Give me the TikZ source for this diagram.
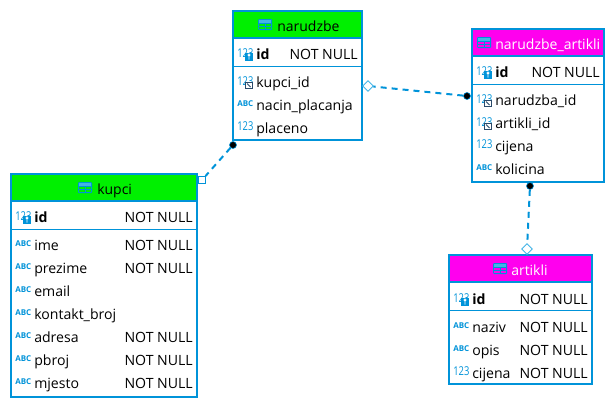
\documentclass[tikz,border=0pt]{standalone}
\usepackage{fontspec}
\usepackage{graphicx}
\setmainfont{Open Sans}
\definecolor{erblue}{HTML}{0093D9}
\definecolor{erlight}{HTML}{45B4E6}
\definecolor{ergreen}{HTML}{00F000}
\definecolor{ermagenta}{HTML}{FF00EE}
\definecolor{erdark}{HTML}{2A4A6A}
\newcommand{\tableicon}[3]{% x, y, cell colour
\fill[erblue,rounded corners=1pt] (#1,#2) rectangle ++(14,11);
\fill[erlight] (#1+1,#2+1) rectangle ++(12,3);
\fill[#3] (#1+1,#2+5) rectangle ++(5.5,2.2);
\fill[#3] (#1+7.5,#2+5) rectangle ++(5.5,2.2);
\fill[#3] (#1+1,#2+8) rectangle ++(5.5,2.2);
\fill[#3] (#1+7.5,#2+8) rectangle ++(5.5,2.2);}
\newcommand{\keybadge}[2]{% x, y
\fill[erblue] (#1,#2) rectangle ++(8,8);
\draw[white,line width=.7pt] (#1+4,#2+2) circle (1.1) -- (#1+4,#2+6.5);}
\newcommand{\refbadge}[2]{% x, y
\draw[erdark,fill=white,line width=1pt] (#1,#2) rectangle ++(7.5,6.5);
\draw[erdark,line width=.8pt] (#1+2,#2+1.5) -- (#1+5.5,#2+5);}
\newcommand{\tallnum}{\scalebox{1}[1.3]{123}}
\tikzset{
tablebox/.style={draw=erblue,line width=2.6pt,fill=white,anchor=north west,inner sep=0pt,outer sep=0pt},
headbox/.style={tablebox},
title/.style={anchor=base west,inner sep=0pt,font=\fontsize{14}{16}\selectfont},
colname/.style={anchor=base west,inner sep=0pt,font=\fontsize{14.1}{16}\selectfont},
keyname/.style={colname,font=\fontsize{14.1}{16}\selectfont\bfseries},
notnull/.style={anchor=base east,inner sep=0pt,font=\fontsize{14.1}{16}\selectfont},
numicon/.style={anchor=base west,inner sep=0pt,text=erblue,font=\fontsize{9.4}{10}\selectfont},
abcicon/.style={anchor=base west,inner sep=0pt,text=erblue,font=\fontsize{8}{8}\selectfont\bfseries},
relline/.style={draw=erblue,line width=2pt,dash pattern=on 6pt off 5pt},
dotend/.style={circle,fill=black,draw=erblue,line width=.6pt,inner sep=0pt,minimum size=7pt},
diaend/.style={diamond,draw=erlight,fill=white,line width=.9pt,inner sep=0pt,minimum size=11pt},
squareend/.style={rectangle,draw=erblue,fill=white,line width=.9pt,inner sep=0pt,minimum size=7pt},
}
\usetikzlibrary{shapes.geometric}
\begin{document}
\begin{tikzpicture}[x=1pt,y=-1pt,line width=.5pt]
\path[use as bounding box] (0,0) rectangle (615,407);
% narudzbe
\node[tablebox,minimum width=129,minimum height=129] (narudzbe) at (233,11) {};
\node[headbox,fill=ergreen,minimum width=129,minimum height=27] (narudzbeHead) at (233,11) {};
\draw[erblue,line width=1pt] (233,66) -- (362,66);
\tableicon{258}{19}{ergreen}
\node[title] (narudzbeTitle) at (277,31) {narudzbe};
\node[numicon] (narudzbeIdIcon) at (237,57) {\tallnum};
\keybadge{245}{53}
\node[keyname] (narudzbeId) at (256,59) {id};
\node[notnull] (narudzbeIdNull) at (358,59) {NOT NULL};
\node[numicon] (narudzbeKupciIcon) at (237,85) {\tallnum};
\refbadge{245}{82}
\node[colname] (narudzbeKupci) at (256,87) {kupci\_id};
\node[abcicon] (narudzbeNacinIcon) at (237,106) {ABC};
\node[colname] (narudzbeNacin) at (256,110) {nacin\_placanja};
\node[numicon] (narudzbePlacenoIcon) at (237,130) {\tallnum};
\node[colname] (narudzbePlaceno) at (256,133) {placeno};
% kupci
\node[tablebox,minimum width=186,minimum height=223] (kupci) at (11,174) {};
\node[headbox,fill=ergreen,minimum width=186,minimum height=27] (kupciHead) at (11,174) {};
\draw[erblue,line width=1pt] (11,229) -- (197,229);
\tableicon{78}{182}{ergreen}
\node[title] (kupciTitle) at (97,194) {kupci};
\node[numicon] (kupciIdIcon) at (15,220) {\tallnum};
\keybadge{23}{216}
\node[keyname] (kupciId) at (34,222) {id};
\node[notnull] (kupciIdNull) at (193,222) {NOT NULL};
\node[abcicon] (kupciImeIcon) at (15,246) {ABC};
\node[colname] (kupciIme) at (34,250) {ime};
\node[notnull] (kupciImeNull) at (193,250) {NOT NULL};
\node[abcicon] (kupciPrezimeIcon) at (15,269) {ABC};
\node[colname] (kupciPrezime) at (34,273) {prezime};
\node[notnull] (kupciPrezimeNull) at (193,273) {NOT NULL};
\node[abcicon] (kupciEmailIcon) at (15,292) {ABC};
\node[colname] (kupciEmail) at (34,296) {email};
\node[abcicon] (kupciKontaktIcon) at (15,315) {ABC};
\node[colname] (kupciKontakt) at (34,319) {kontakt\_broj};
\node[abcicon] (kupciAdresaIcon) at (15,338) {ABC};
\node[colname] (kupciAdresa) at (34,342) {adresa};
\node[notnull] (kupciAdresaNull) at (193,342) {NOT NULL};
\node[abcicon] (kupciPbrojIcon) at (15,361) {ABC};
\node[colname] (kupciPbroj) at (34,365) {pbroj};
\node[notnull] (kupciPbrojNull) at (193,365) {NOT NULL};
\node[abcicon] (kupciMjestoIcon) at (15,384) {ABC};
\node[colname] (kupciMjesto) at (34,388) {mjesto};
\node[notnull] (kupciMjestoNull) at (193,388) {NOT NULL};
% narudzbe_artikli
\node[tablebox,minimum width=132,minimum height=153] (stavke) at (472,29) {};
\node[headbox,fill=ermagenta,minimum width=132,minimum height=27] (stavkeHead) at (472,29) {};
\draw[erblue,line width=1pt] (472,84) -- (604,84);
\tableicon{477}{37}{ermagenta}
\node[title,text=white] (stavkeTitle) at (495,49) {narudzbe\_artikli};
\node[numicon] (stavkeIdIcon) at (476,75) {\tallnum};
\keybadge{484}{71}
\node[keyname] (stavkeId) at (495,77) {id};
\node[notnull] (stavkeIdNull) at (600,77) {NOT NULL};
\node[numicon] (stavkeNarudzbaIcon) at (476,103) {\tallnum};
\refbadge{484}{100}
\node[colname] (stavkeNarudzba) at (495,105) {narudzba\_id};
\node[numicon] (stavkeArtikliIcon) at (476,126) {\tallnum};
\refbadge{484}{123}
\node[colname] (stavkeArtikli) at (495,128) {artikli\_id};
\node[numicon] (stavkeCijenaIcon) at (476,148) {\tallnum};
\node[colname] (stavkeCijena) at (495,151) {cijena};
\node[abcicon] (stavkeKolicinaIcon) at (476,170) {ABC};
\node[colname] (stavkeKolicina) at (495,174) {kolicina};
% artikli
\node[tablebox,minimum width=143,minimum height=129] (artikli) at (449,255) {};
\node[headbox,fill=ermagenta,minimum width=143,minimum height=27] (artikliHead) at (449,255) {};
\draw[erblue,line width=1pt] (449,310) -- (592,310);
\tableicon{493}{263}{ermagenta}
\node[title,text=white] (artikliTitle) at (511,275) {artikli};
\node[numicon] (artikliIdIcon) at (453,302) {\tallnum};
\keybadge{461}{298}
\node[keyname] (artikliId) at (472,304) {id};
\node[notnull] (artikliIdNull) at (588,304) {NOT NULL};
\node[abcicon] (artikliNazivIcon) at (453,328) {ABC};
\node[colname] (artikliNaziv) at (472,332) {naziv};
\node[notnull] (artikliNazivNull) at (588,332) {NOT NULL};
\node[abcicon] (artikliOpisIcon) at (453,351) {ABC};
\node[colname] (artikliOpis) at (472,355) {opis};
\node[notnull] (artikliOpisNull) at (588,355) {NOT NULL};
\node[numicon] (artikliCijenaIcon) at (453,375) {\tallnum};
\node[colname] (artikliCijena) at (472,378) {cijena};
\node[notnull] (artikliCijenaNull) at (588,378) {NOT NULL};
% relations
\node[dotend] (kupciDot) at (233,145) {};
\node[squareend] (kupciEnd) at (202,180) {};
\draw[relline] (kupciDot) -- (kupciEnd);
\node[dotend] (stavkeDot) at (467,96) {};
\node[diaend] (narudzbeEnd) at (368,86) {};
\draw[relline] (stavkeDot) -- (narudzbeEnd);
\node[dotend] (artikliDot) at (530,186) {};
\node[diaend] (artikliEnd) at (527,249) {};
\draw[relline] (artikliDot) -- (artikliEnd);
\end{tikzpicture}
\end{document}
